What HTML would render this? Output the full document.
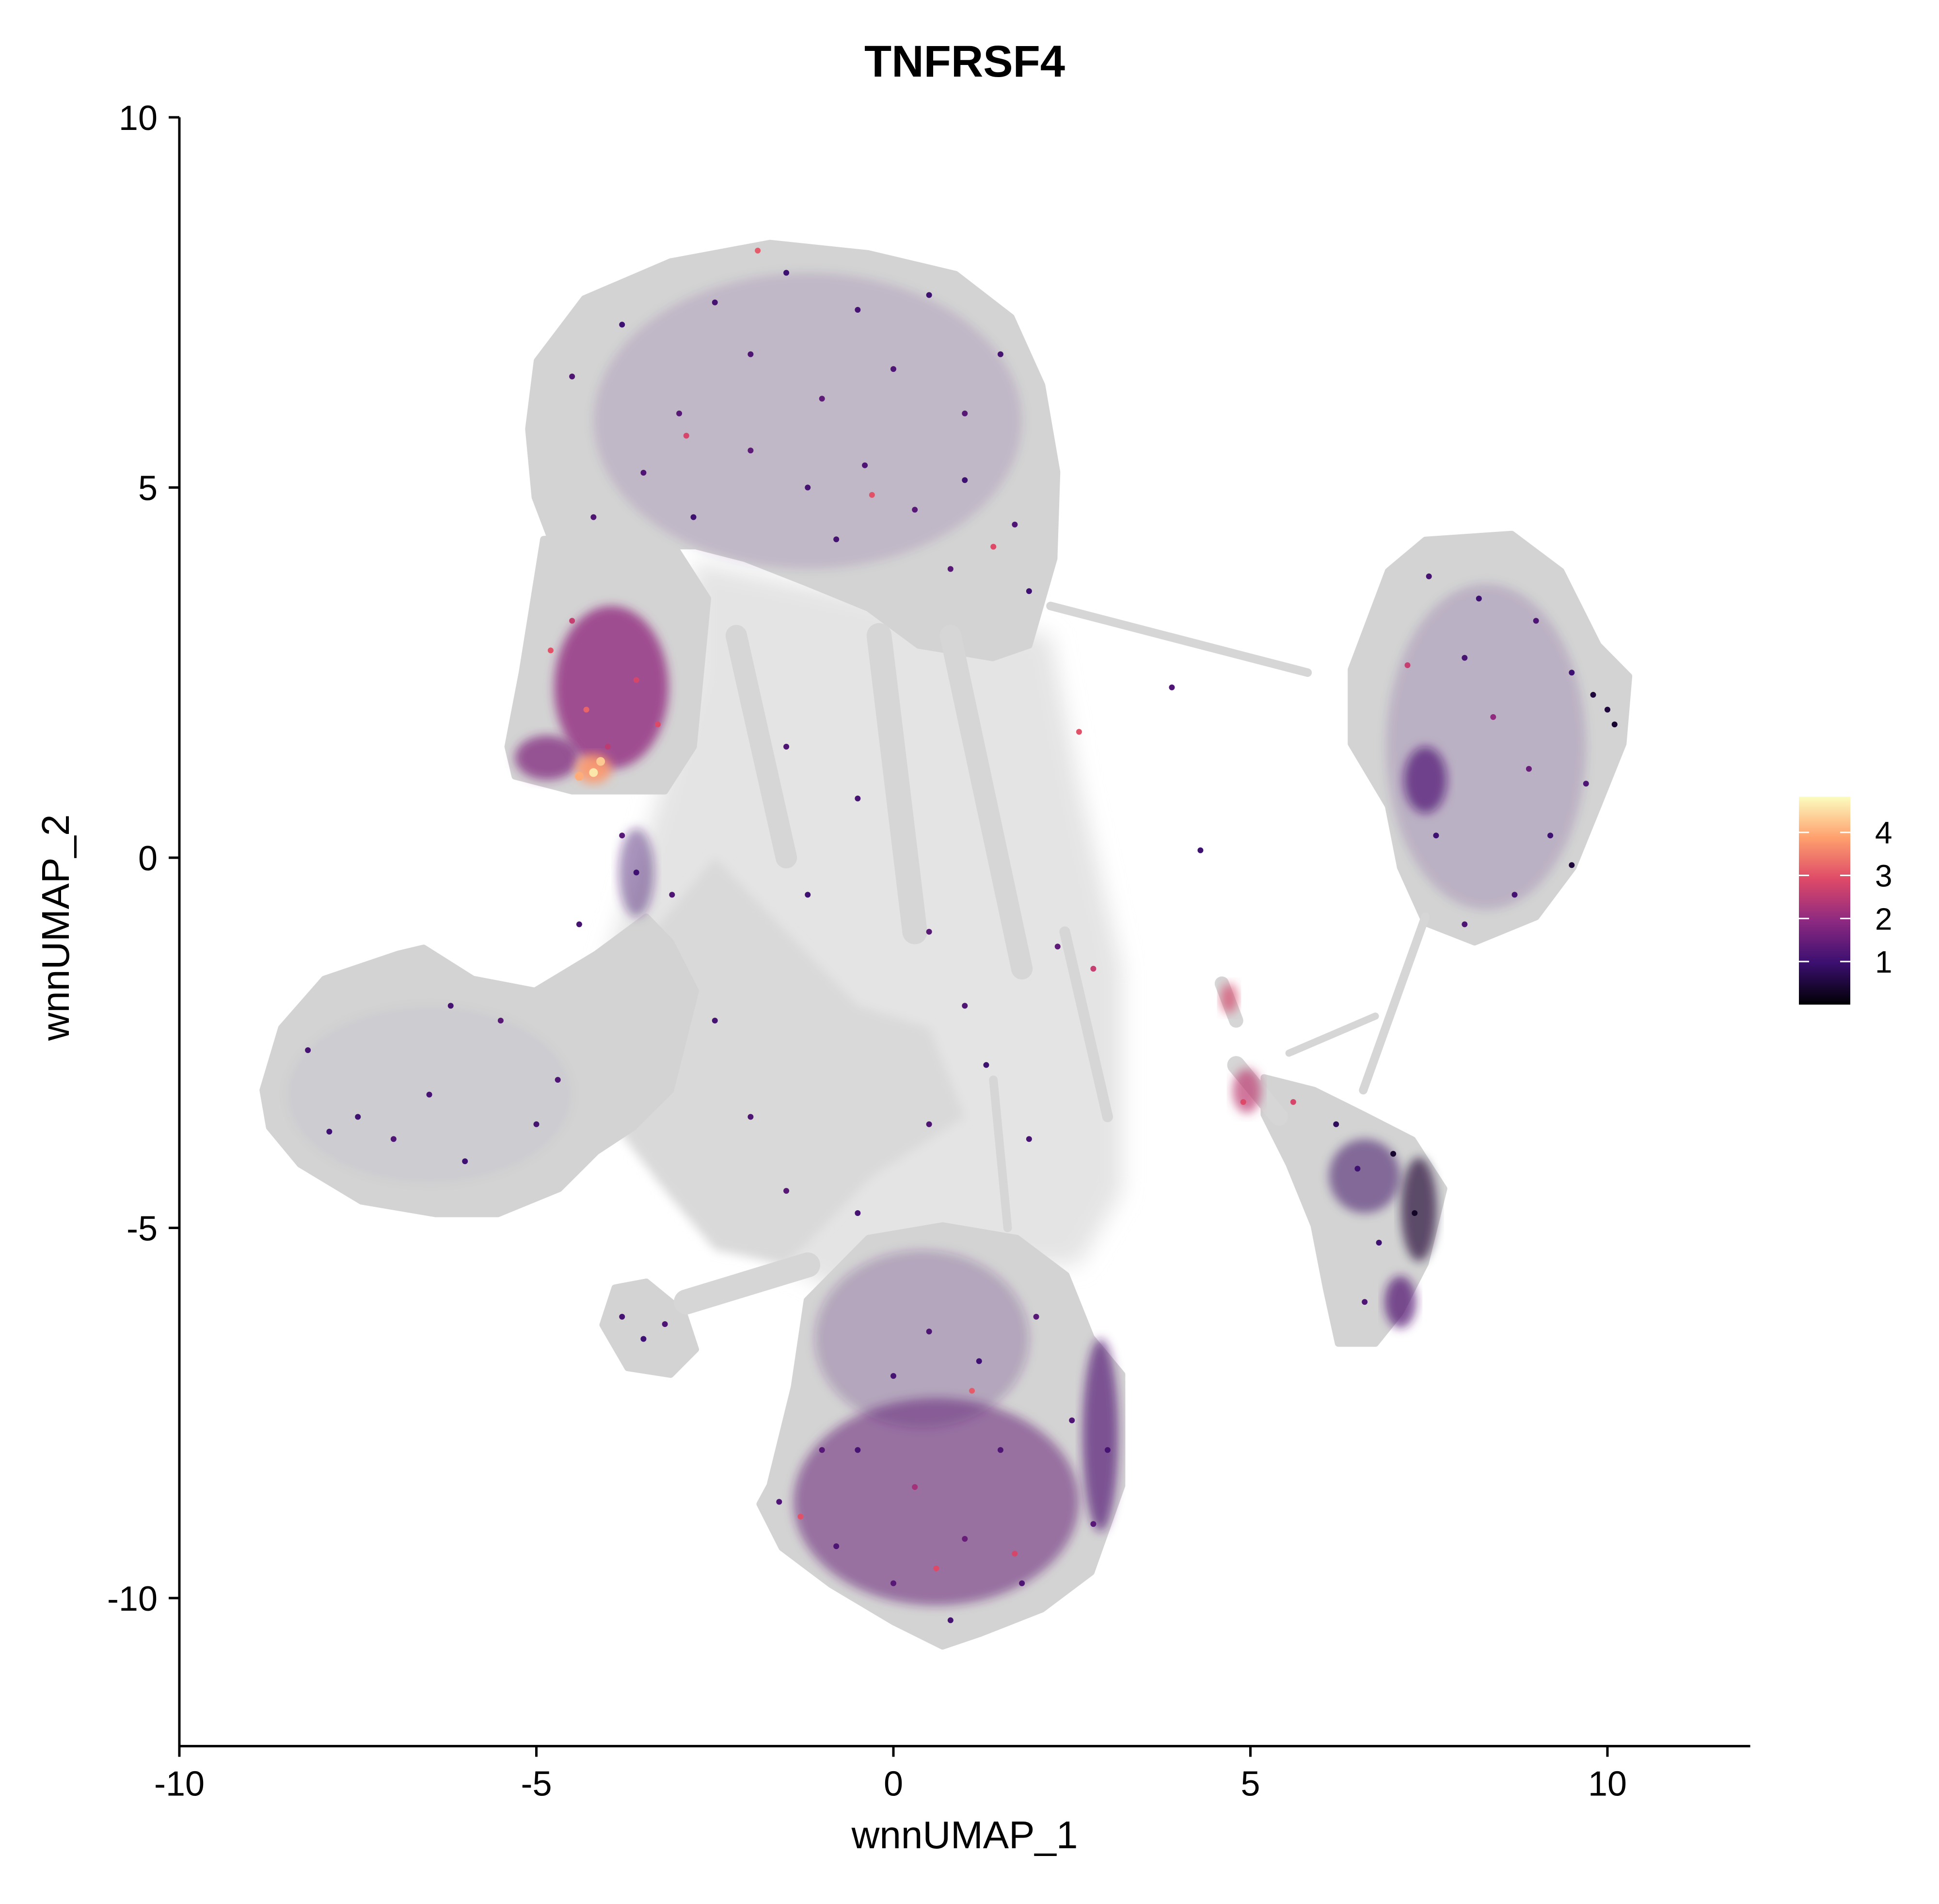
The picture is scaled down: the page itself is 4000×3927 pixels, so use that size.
<!DOCTYPE html>
<html><head><meta charset="utf-8"><title>TNFRSF4</title>
<style>
html,body{margin:0;padding:0;background:#fff;}
svg{display:block;font-family:"Liberation Sans","DejaVu Sans",sans-serif;}
</style></head>
<body>
<svg id="chart" width="4000" height="3927" viewBox="0 0 4000 3927" xmlns="http://www.w3.org/2000/svg">
<defs>
<filter id="soft" x="-20%" y="-20%" width="140%" height="140%"><feGaussianBlur stdDeviation="10"/></filter>
<filter id="soft2" x="-50%" y="-50%" width="200%" height="200%"><feGaussianBlur stdDeviation="22"/></filter>
<linearGradient id="magmaGrad" x1="0" y1="1" x2="0" y2="0">
<stop offset="0" stop-color="#000004"/><stop offset="0.2" stop-color="#3b0f70"/><stop offset="0.4" stop-color="#8c2981"/><stop offset="0.6" stop-color="#de4968"/><stop offset="0.8" stop-color="#fe9f6d"/><stop offset="1" stop-color="#fcfdbf"/>
</linearGradient>
</defs>
<g id="gray-layer"></g>
<g id="patch-layer"></g>
<g id="point-layer"></g>
<g id="axes"></g>
<text x="1990" y="158" font-size="92" font-weight="bold" text-anchor="middle">TNFRSF4</text>
<text x="1990" y="3812" font-size="80" text-anchor="middle">wnnUMAP_1</text>
<text transform="translate(142,1913) rotate(-90)" font-size="80" text-anchor="middle">wnnUMAP_2</text>
<g id="legend"></g>
</svg>
<script>
// ---- data (UMAP units) ----
const xTicks = [-10, -5, 0, 5, 10];
const yTicks = [10, 5, 0, -5, -10];
const legendTicks = [1, 2, 3, 4];
const legendMin = 0, legendMax = 4.83;

const blobTopX = [-5.11,-4.99,-4.33,-3.12,-1.73,-0.35,0.87,1.65,2.08,2.29,2.25,1.90,1.39,0.35,-0.35,-1.21,-2.08,-2.77,-3.46,-4.16,-4.76,-5.02];
const blobTopY = [5.79,6.71,7.55,8.05,8.30,8.16,7.88,7.30,6.38,5.21,4.04,2.87,2.70,2.87,3.37,3.71,4.04,4.21,4.21,4.37,4.21,4.87];
const armX = [-5.4,-5.2,-4.9,-3.2,-2.6,-2.8,-3.2,-4.5,-5.3];
const armY = [1.5,2.5,4.3,4.4,3.5,1.5,0.9,0.9,1.1];
const centerX = [-2.8,2.2,2.6,3.2,3.2,2.6,1.5,-0.5,-1.5,-2.5,-3.5,-4.2,-3.3,-2.8];
const centerY = [4.0,3.0,1.0,-1.5,-4.5,-5.5,-5.5,-6,-5.5,-4.6,-3.5,-2,0.8,2.5];
const midDenseX = [-3.8,-2.5,-1.5,-0.5,0.5,1.0,-0.3,-1.5,-2.5,-3.2,-4];
const midDenseY = [-1.5,0,-1,-2,-2.3,-3.5,-4.3,-5.5,-5.3,-4.5,-3.5];
const blobLeftX = [-8.83,-8.57,-7.97,-6.93,-6.58,-5.89,-5.02,-4.16,-3.46,-3.12,-2.77,-3.12,-3.64,-4.16,-4.68,-5.54,-6.41,-7.45,-8.31,-8.74];
const blobLeftY = [-3.14,-2.30,-1.64,-1.30,-1.22,-1.64,-1.80,-1.30,-0.80,-1.14,-1.80,-3.14,-3.64,-3.97,-4.47,-4.81,-4.81,-4.64,-4.14,-3.64];
const blobBottomX = [-1.73,-1.39,-1.21,-0.35,0.69,1.73,2.42,2.77,3.20,3.20,2.77,2.08,1.21,0.69,0,-0.87,-1.56,-1.87];
const blobBottomY = [-8.48,-7.15,-5.98,-5.14,-4.97,-5.14,-5.64,-6.48,-6.98,-8.48,-9.65,-10.15,-10.48,-10.65,-10.32,-9.82,-9.32,-8.73];
const blobSmallX = [-4.07,-3.90,-3.46,-2.94,-2.77,-3.12,-3.72];
const blobSmallY = [-6.31,-5.81,-5.73,-6.14,-6.64,-6.98,-6.89];
const blobRUX = [6.41,6.93,7.45,8.66,9.35,9.87,10.30,10.22,9.87,9.52,9.00,8.14,7.45,7.10,6.93,6.41];
const blobRUY = [2.54,3.87,4.29,4.37,3.87,2.87,2.45,1.54,0.70,-0.13,-0.80,-1.14,-0.88,-0.13,0.70,1.54];
const blobRLX = [5.19,5.89,6.58,7.27,7.71,7.45,7.10,6.75,6.23,6.06,5.89,5.54,5.19];
const blobRLY = [-2.97,-3.14,-3.47,-3.81,-4.47,-5.48,-6.14,-6.56,-6.56,-5.81,-4.97,-4.14,-3.47];
const streamX1 = [-0.2,0.8,-2.2,2.2,7.45,5.54,-2.9,4.6,4.8,2.4,1.4];
const streamY1 = [3.0,3.0,3.0,3.4,-0.8,-2.64,-6.0,-1.7,-2.8,-1.0,-3.0];
const streamX2 = [0.3,1.8,-1.5,5.8,6.58,6.75,-1.2,4.8,5.4,3.0,1.6];
const streamY2 = [-1.0,-1.5,0.0,2.5,-3.14,-2.14,-5.5,-2.2,-3.5,-3.5,-5.0];
const streamW = [0.35,0.3,0.3,0.12,0.12,0.1,0.35,0.2,0.25,0.15,0.12];

// expression density patches
const patchX = [-1.2,-3.95,-4.85,0.6,2.9,0.4,8.3,7.45,6.6,7.36,7.1,4.7,4.95,-3.6,-4.2,-6.5];
const patchY = [5.9,2.3,1.35,-8.7,-7.8,-6.5,1.5,1.05,-4.3,-4.75,-6.0,-1.9,-3.15,-0.2,1.2,-3.2];
const patchRX = [3.0,0.8,0.45,2.0,0.25,1.5,1.4,0.3,0.5,0.25,0.22,0.12,0.2,0.25,0.25,2.0];
const patchRY = [2.0,1.1,0.3,1.4,1.3,1.2,2.2,0.45,0.5,0.7,0.35,0.2,0.3,0.6,0.2,1.2];
const patchVal = [1.2,2.0,1.8,1.5,1.3,1.3,1.0,1.2,0.8,0.4,1.3,2.8,2.5,1.1,3.8,1.0];
const patchOpacity = [0.13,0.8,0.75,0.55,0.7,0.25,0.16,0.7,0.5,0.65,0.75,0.7,0.7,0.45,0.9,0.03];

// individual expressing cells
const cellX = [-4.5,-3.8,-3,-2.5,-2,-1.5,-1,-0.5,0,0.5,1,1.5,-3.5,-2.8,-2.0,-1.2,-0.4,0.3,1.0,1.7,-0.8,0.8,1.9,-4.2,-2.9,-0.3,1.4,-1.9,
 -1.5,-0.5,0.5,1.0,-1.2,2.3,2.8,-2.5,-2,-1.5,-0.5,0.5,1.3,1.9,-3.1,-3.6,-3.8,-4.4,2.6,3.9,4.3,
 -8.2,-7.5,-7,-6.5,-6,-5.5,-5,-4.7,-7.9,-6.2,-3.8,-3.5,-3.2,
 7.5,8.2,9,9.5,10,9.7,9.2,8.7,8.0,7.6,8.4,8.9,7.2,8.0,9.8,10.1,9.5,
 6.2,6.5,7.0,6.8,6.6,7.3,5.6,4.9,
 -1.6,-1.0,0,0.5,1.2,2.0,2.5,3.0,2.8,1.8,0.8,0,-0.8,0.3,1.0,1.5,-0.5,-1.3,0.6,1.1,1.7,
 -4.8,-4.3,-3.6,-4.0,-3.3,-4.5,-4.2,-4.1,-4.4];
const cellY = [6.5,7.2,6,7.5,6.8,7.9,6.2,7.4,6.6,7.6,6.0,6.8,5.2,4.6,5.5,5.0,5.3,4.7,5.1,4.5,4.3,3.9,3.6,4.6,5.7,4.9,4.2,8.2,
 1.5,0.8,-1,-2.0,-0.5,-1.2,-1.5,-2.2,-3.5,-4.5,-4.8,-3.6,-2.8,-3.8,-0.5,-0.2,0.3,-0.9,1.7,2.3,0.1,
 -2.6,-3.5,-3.8,-3.2,-4.1,-2.2,-3.6,-3.0,-3.7,-2.0,-6.2,-6.5,-6.3,
 3.8,3.5,3.2,2.5,2.0,1.0,0.3,-0.5,-0.9,0.3,1.9,1.2,2.6,2.7,2.2,1.8,-0.1,
 -3.6,-4.2,-4.0,-5.2,-6.0,-4.8,-3.3,-3.3,
 -8.7,-8.0,-7.0,-6.4,-6.8,-6.2,-7.6,-8.0,-9.0,-9.8,-10.3,-9.8,-9.3,-8.5,-9.2,-8.0,-8.0,-8.9,-9.6,-7.2,-9.4,
 2.8,2.0,2.4,1.5,1.8,3.2,1.15,1.3,1.1];
const cellVal = [1.2,1.0,1.3,1.1,1.2,1.0,1.4,1.1,1.2,1.0,1.3,1.1,1.2,1.0,1.4,1.1,1.2,1.3,1.0,1.2,1.1,1.3,1.0,1.2,2.8,3.0,2.9,3.1,
 1.2,1.1,1.3,1.2,1.0,1.4,2.6,1.1,1.2,1.3,1.1,1.2,1.0,1.1,1.2,1.0,1.3,1.1,3.0,1.2,1.0,
 1.1,1.0,1.2,1.1,1.0,1.3,1.1,1.2,1.0,1.1,1.1,1.0,1.2,
 1.1,1.0,1.2,1.0,0.5,1.2,1.0,1.1,1.2,1.0,2.0,1.5,2.6,1.1,0.5,0.4,0.5,
 0.8,1.0,0.4,1.0,1.2,0.3,2.8,2.9,
 1.2,1.3,1.1,1.2,1.0,1.3,1.2,1.1,1.3,1.2,1.1,1.3,1.2,2.2,1.5,1.2,1.1,3.0,2.9,3.1,2.8,
 3.0,3.2,2.8,2.5,2.9,2.6,4.6,4.3,4.0];

// ---- scales ----
const X0 = 370, XPU = 147.3, Y0 = 242, YPU = 152.7;
function sx(v){ return X0 + (v + 10) * XPU; }
function sy(v){ return Y0 + (10 - v) * YPU; }
const magmaStops = ["#000004","#3b0f70","#8c2981","#de4968","#fe9f6d","#fcfdbf"];
function hex2rgb(h){ return [1,3,5].map(i=>parseInt(h.substr(i,2),16)); }
function magma(v){
  let t = Math.max(0, Math.min(1, (v - legendMin) / (legendMax - legendMin)));
  const n = magmaStops.length - 1, i = Math.min(n - 1, Math.floor(t * n)), f = t * n - i;
  const a = hex2rgb(magmaStops[i]), b = hex2rgb(magmaStops[i+1]);
  return "rgb(" + a.map((c,k)=>Math.round(c + (b[k]-c)*f)).join(",") + ")";
}
const NS = "http://www.w3.org/2000/svg";
function mk(tag, attrs, parent){ const e = document.createElementNS(NS, tag); for (const k in attrs) e.setAttribute(k, attrs[k]); parent.appendChild(e); return e; }
function poly(xs, ys){ return xs.map((x,i)=>sx(x).toFixed(1)+","+sy(ys[i]).toFixed(1)).join(" "); }

// ---- gray cells ----
const gray = document.getElementById("gray-layer");
let e;
e = mk("polygon", {points: poly(centerX, centerY), fill: "#e4e4e4", filter: "url(#soft2)"}, gray);


e = mk("polygon", {points: poly(midDenseX, midDenseY), fill: "#d9d9d9", filter: "url(#soft)"}, gray);


const blobs = [[blobTopX, blobTopY, 'top-cluster'], [armX, armY, 'left-arm-cluster'], [blobLeftX, blobLeftY, 'left-cluster'], [blobBottomX, blobBottomY, 'bottom-cluster'], [blobSmallX, blobSmallY, 'small-cluster'], [blobRUX, blobRUY, 'right-upper-cluster'], [blobRLX, blobRLY, 'right-lower-cluster']];
blobs.forEach(b => {
  const p = mk("polygon", {points: poly(b[0], b[1]), fill: "#d3d3d3", stroke: "#d3d3d3", "stroke-width": 14, "stroke-linejoin": "round"}, gray);
  
  
});
streamX1.forEach((x, i) => {
  const l = mk("line", {x1: sx(x), y1: sy(streamY1[i]), x2: sx(streamX2[i]), y2: sy(streamY2[i]), stroke: "#d6d6d6", "stroke-width": streamW[i] * XPU, "stroke-linecap": "round"}, gray);
  
  
});

// ---- expression patches ----
const pl = document.getElementById("patch-layer");
patchX.forEach((x, i) => {
  const el = mk("ellipse", {cx: sx(x), cy: sy(patchY[i]), rx: patchRX[i] * XPU, ry: patchRY[i] * YPU, fill: magma(patchVal[i]), "fill-opacity": patchOpacity[i], filter: "url(#soft)"}, pl);
  
  
});

// ---- points ----
const ptl = document.getElementById("point-layer");
const order = cellVal.map((v,i)=>i).sort((a,b)=>cellVal[a]-cellVal[b]);
order.forEach(i => {
  const c = mk("circle", {cx: sx(cellX[i]), cy: sy(cellY[i]), r: cellVal[i] > 3.5 ? 9 : 6, fill: magma(cellVal[i])}, ptl);
  
  
});

// ---- axes ----
const ax = document.getElementById("axes");
e = mk("line", {x1: X0, y1: Y0, x2: X0, y2: sy(-12), stroke: "#000", "stroke-width": 5}, ax);


e = mk("line", {x1: X0 - 2.5, y1: sy(-12), x2: sx(12), y2: sy(-12), stroke: "#000", "stroke-width": 5}, ax);


xTicks.forEach(v => {
  const t = mk("line", {x1: sx(v), y1: sy(-12), x2: sx(v), y2: sy(-12) + 22, stroke: "#000", "stroke-width": 5}, ax);
  
  
  const l = mk("text", {x: sx(v), y: sy(-12) + 102, "font-size": 72, "text-anchor": "middle"}, ax);
  l.textContent = String(v);
  
  
});
yTicks.forEach(v => {
  const t = mk("line", {x1: X0 - 22, y1: sy(v), x2: X0, y2: sy(v), stroke: "#000", "stroke-width": 5}, ax);
  
  
  const l = mk("text", {x: X0 - 45, y: sy(v) + 26, "font-size": 72, "text-anchor": "end"}, ax);
  l.textContent = String(v);
  
  
});

// ---- legend ----
const lg = document.getElementById("legend");
const LX = 3711, LW = 106, LTOP = 1643, LBOT = 2072;
function ly(v){ return LBOT - (v - legendMin) / (legendMax - legendMin) * (LBOT - LTOP); }
e = mk("rect", {x: LX, y: LTOP, width: LW, height: LBOT - LTOP, fill: "url(#magmaGrad)"}, lg);


legendTicks.forEach(v => {
  const a = mk("line", {x1: LX, y1: ly(v), x2: LX + 21, y2: ly(v), stroke: "#fff", "stroke-width": 3}, lg);
  
  
  const b = mk("line", {x1: LX + LW - 21, y1: ly(v), x2: LX + LW, y2: ly(v), stroke: "#fff", "stroke-width": 3}, lg);
  
  
  const t = mk("text", {x: 3868, y: ly(v) + 23, "font-size": 64}, lg);
  t.textContent = String(v);
  
  
});
</script>
</body></html>
